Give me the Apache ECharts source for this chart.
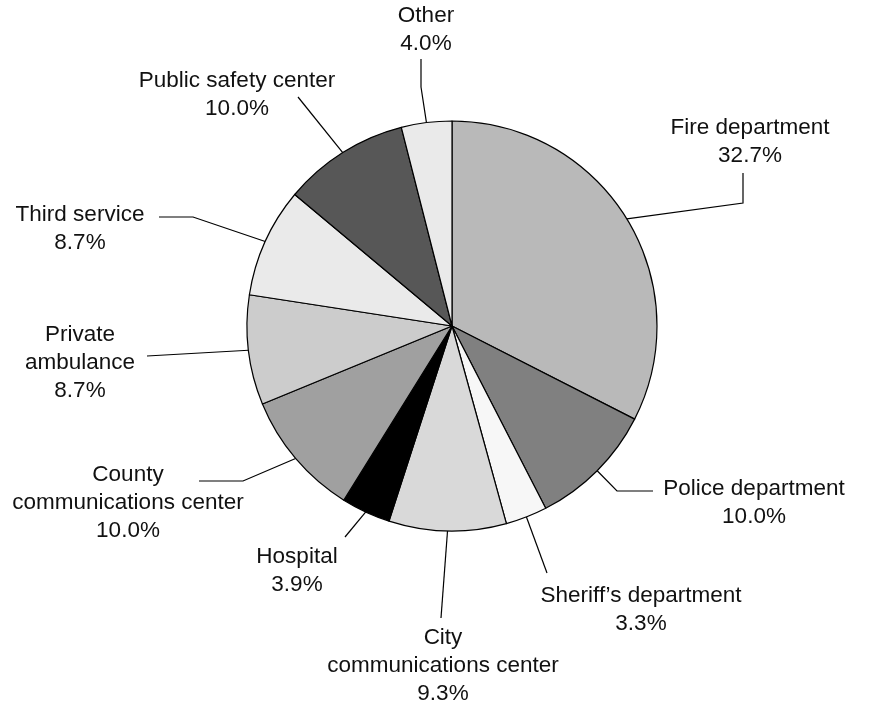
<!DOCTYPE html>
<html>
<head>
<meta charset="utf-8">
<script src="https://cdn.jsdelivr.net/npm/echarts@6/dist/echarts.min.js"></script>
<style>
  html, body { margin: 0; padding: 0; background: #fff; }
  #main { width: 873px; height: 705px; }
</style>
</head>
<body>
<div id="main"></div>
<script>
// categories, clockwise from 12 o'clock
var categories = ['Fire department', 'Police department', 'Sheriff\u2019s department',
  'City\ncommunications center', 'Hospital', 'County\ncommunications center',
  'Private\nambulance', 'Third service', 'Public safety center', 'Other'];
var shares = [32.7, 10.0, 3.3, 9.3, 3.9, 10.0, 8.7, 8.7, 10.0, 4.0];
var sliceColors = ['#b9b9b9', '#808080', '#f7f7f7', '#d9d9d9', '#000000',
  '#a0a0a0', '#cccccc', '#eaeaea', '#575757', '#eaeaea'];

// label block centres and the bends of their leader lines
var labelPos = [[750, 142], [754, 503], [641, 610], [443, 666], [297, 571],
  [128, 503], [80, 363], [80, 229], [237, 95], [426, 30]];
var leaderBends = [
  [[743, 203], [743, 173]],
  [[617, 491], [653, 491]],
  [[547, 573]],
  [[441, 618]],
  [[345, 537]],
  [[243, 481], [199, 481]],
  [[147, 356]],
  [[193, 217], [159, 217]],
  [[298, 97]],
  [[421, 87], [421, 59]]
];

var chart = echarts.init(document.getElementById('main'));
var font = "'Liberation Sans', Arial, Helvetica, sans-serif";

var pieData = categories.map(function (name, i) {
  return { name: name, value: shares[i], itemStyle: { color: sliceColors[i] } };
});

chart.setOption({
  backgroundColor: '#ffffff',
  animation: false,
  series: [{
    type: 'pie',
    center: [452, 326],
    radius: 205,
    startAngle: 90,
    clockwise: true,
    avoidLabelOverlap: false,
    data: pieData,
    itemStyle: { borderColor: '#000', borderWidth: 1.2 },
    label: {
      show: true,
      position: 'outside',
      color: '#111',
      fontFamily: font,
      fontSize: 22.5,
      lineHeight: 28,
      align: 'center',
      formatter: function (p) { return p.name + '\n' + p.value.toFixed(1) + '%'; }
    },
    labelLine: {
      show: true,
      length: 20,
      length2: 20,
      lineStyle: { color: '#000', width: 1.2 }
    },
    labelLayout: function (params) {
      var i = params.dataIndex;
      var start = params.labelLinePoints ? params.labelLinePoints[0] : null;
      var out = {
        x: labelPos[i][0],
        y: labelPos[i][1],
        align: 'center',
        verticalAlign: 'middle'
      };
      if (start) {
        out.labelLinePoints = [start].concat(leaderBends[i]);
      }
      return out;
    },
    emphasis: { disabled: true }
  }]
});
window.addEventListener('resize', function () { chart.resize(); });
</script>
</body>
</html>
